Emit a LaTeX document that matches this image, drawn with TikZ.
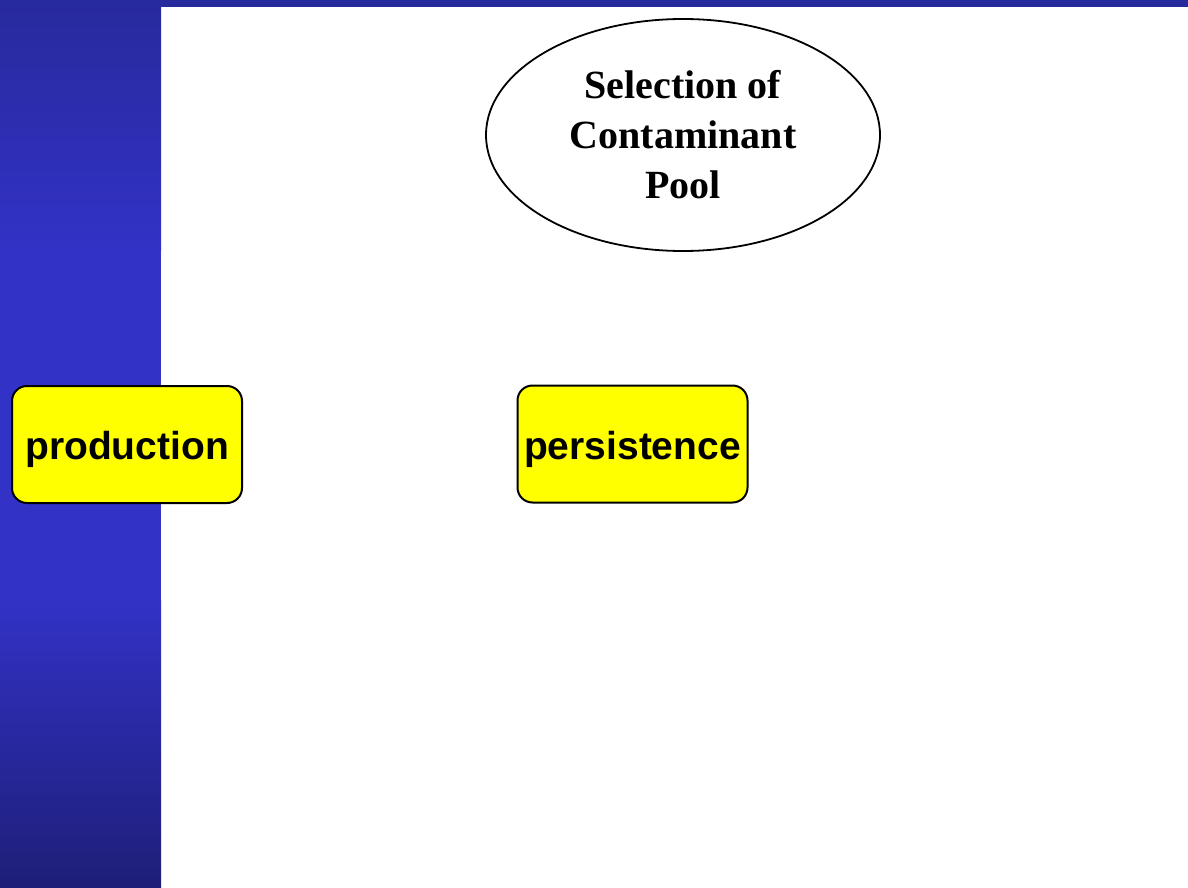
\documentclass[tikz,border=0pt]{standalone}
\usepackage{fontspec}
\usetikzlibrary{shapes.geometric}
\newfontfamily\timesbf{Liberation Serif}
\newfontfamily\arialbf{Liberation Sans}
\definecolor{bardark}{HTML}{272A9C}
\definecolor{barmid}{HTML}{3232C6}
\definecolor{barbot}{HTML}{1E1E78}
\definecolor{boxyellow}{HTML}{FFFF00}
\tikzset{
  ybox/.style={draw=black, line width=2pt, fill=boxyellow, rounded corners=15pt,
    minimum width=230pt, minimum height=117pt, inner sep=0pt,
    text height=30pt, text depth=0pt,
    font=\arialbf\bfseries\fontsize{39}{39}\selectfont},
  pool/.style={draw=black, line width=1.8pt, ellipse, minimum width=394pt,
    minimum height=232pt, inner sep=0pt, align=center,
    font=\timesbf\bfseries\fontsize{40}{50}\selectfont}
}
\begin{document}
\begin{tikzpicture}[x=1pt,y=-1pt]
\useasboundingbox (0,0) rectangle (1188,888);
\fill[white] (0,0) rectangle (1188,888);
% left panel gradient
\shade[top color=bardark, bottom color=barmid] (0,0) rectangle (161,250);
\fill[barmid] (0,249.5) rectangle (161,600.5);
\shade[top color=barmid, bottom color=barbot] (0,600) rectangle (161,888);
% top bar
\fill[bardark] (0,0) rectangle (1188,7);
% ellipse
\node[pool] (sel) at (683,135) {Selection of\\Contaminant\\Pool};
% boxes
\node[ybox] (prod) at (127,444.5) {production};
\node[ybox] (pers) at (632.5,444) {persistence};
\end{tikzpicture}
\end{document}
